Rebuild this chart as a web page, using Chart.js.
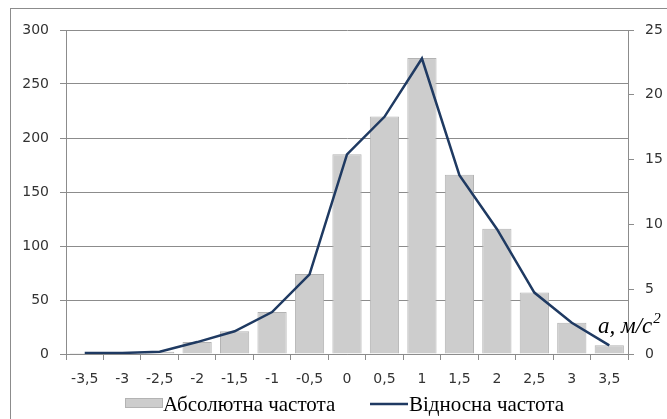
<!DOCTYPE html>
<html>
<head>
<meta charset="utf-8">
<script src="https://cdn.jsdelivr.net/npm/chart.js@4"></script>
<style>
  html, body { margin: 0; padding: 0; background: #fff; overflow: hidden; }
  #wrap { position: relative; width: 667px; height: 419px; }
  #frame { position: absolute; left: 10px; top: 8px; width: 700px; height: 500px; border: 1px solid #8c8c8c; box-sizing: border-box; }
  canvas { position: absolute; left: 0; top: 0; }
</style>
</head>
<body>
<div id="wrap">
  <div id="frame"></div>
  <canvas id="chart" width="667" height="419"></canvas>
</div>
<script>
const categories = ['-3,5', '-3', '-2,5', '-2', '-1,5', '-1', '-0,5', '0', '0,5', '1', '1,5', '2', '2,5', '3', '3,5'];
const absFreq = [1, 1, 2, 11, 21, 39, 74, 185, 220, 274, 166, 116, 57, 29, 8];
const relFreq = [0.08, 0.08, 0.17, 0.92, 1.75, 3.24, 6.15, 15.4, 18.3, 22.8, 13.8, 9.65, 4.74, 2.41, 0.67];
const leftTicks = [0, 50, 100, 150, 200, 250, 300];
const rightTicks = [0, 5, 10, 15, 20, 25];

const barLabel = 'Абсолютна частота';
const lineLabel = 'Відносна частота';
const unitText = 'a, м/с';

const tickFont = { family: 'DejaVu Sans', size: 14 };
const tickColor = '#333333';
const axisColor = '#8c8c8c';

// legend + unit label drawn straight on the canvas
const extras = {
    id: 'extras',
    afterDraw(chart) {
        const ctx = chart.ctx;
        const bar = chart.data.datasets[0];
        const line = chart.data.datasets[1];
        ctx.save();
        ctx.font = '21px "Liberation Serif"';
        ctx.textBaseline = 'alphabetic';

        ctx.fillStyle = bar.backgroundColor;
        ctx.fillRect(125, 398, 38, 10);
        ctx.strokeStyle = bar.borderColor;
        ctx.lineWidth = 1;
        ctx.strokeRect(125.5, 398.5, 37, 9);
        ctx.fillStyle = '#000';
        ctx.fillText(bar.label, 163, 411);

        ctx.strokeStyle = line.borderColor;
        ctx.lineWidth = 2.5;
        ctx.beginPath();
        ctx.moveTo(370, 404);
        ctx.lineTo(408, 404);
        ctx.stroke();
        ctx.fillText(line.label, 409, 411);

        // unit label
        const area = chart.chartArea;
        ctx.font = 'italic 23px "Liberation Serif"';
        const x0 = area.right - 30;
        const y0 = area.bottom - 21;
        ctx.fillText(unitText, x0, y0);
        const w = ctx.measureText(unitText).width;
        ctx.font = 'italic 15px "Liberation Serif"';
        ctx.fillText('2', x0 + w + 1, y0 - 10);
        ctx.restore();
    }
};

new Chart(document.getElementById('chart'), {
    data: {
        labels: categories,
        datasets: [
            {
                type: 'bar',
                label: barLabel,
                data: absFreq,
                yAxisID: 'y',
                backgroundColor: '#cdcdcd',
                borderColor: '#b3b3b3',
                borderWidth: 1,
                barPercentage: 0.78,
                categoryPercentage: 1.0,
                order: 1
            },
            {
                type: 'line',
                label: lineLabel,
                data: relFreq,
                yAxisID: 'y1',
                borderColor: '#1f3a62',
                borderWidth: 2.5,
                pointRadius: 0,
                tension: 0,
                fill: false,
                order: 0
            }
        ]
    },
    options: {
        responsive: false,
        animation: false,
        devicePixelRatio: 1,
        layout: { padding: { left: 0, right: 0, top: 30, bottom: 0 } },
        plugins: {
            legend: { display: false },
            tooltip: { enabled: false }
        },
        scales: {
            x: {
                offset: true,
                grid: { display: true, drawOnChartArea: false, drawTicks: true, tickLength: 6, color: axisColor, offset: true },
                border: { display: true, color: axisColor },
                ticks: { font: tickFont, color: tickColor, padding: 11, maxRotation: 0, autoSkip: false },
                afterFit(scale) { scale.height = 65; }
            },
            y: {
                position: 'left',
                min: 0,
                max: 300,
                afterBuildTicks(scale) { scale.ticks = leftTicks.map(v => ({ value: v })); },
                grid: { color: axisColor, drawTicks: true, tickLength: 6 },
                border: { display: true, color: axisColor },
                ticks: { font: tickFont, color: tickColor, padding: 11 },
                afterFit(scale) { scale.width = 66; }
            },
            y1: {
                position: 'right',
                min: 0,
                max: 25,
                afterBuildTicks(scale) { scale.ticks = rightTicks.map(v => ({ value: v })); },
                grid: { drawOnChartArea: false, drawTicks: true, tickLength: 6, color: axisColor },
                border: { display: true, color: axisColor },
                ticks: { font: tickFont, color: tickColor, padding: 11 },
                afterFit(scale) { scale.width = 39; }
            }
        }
    },
    plugins: [extras]
});
</script>
</body>
</html>
